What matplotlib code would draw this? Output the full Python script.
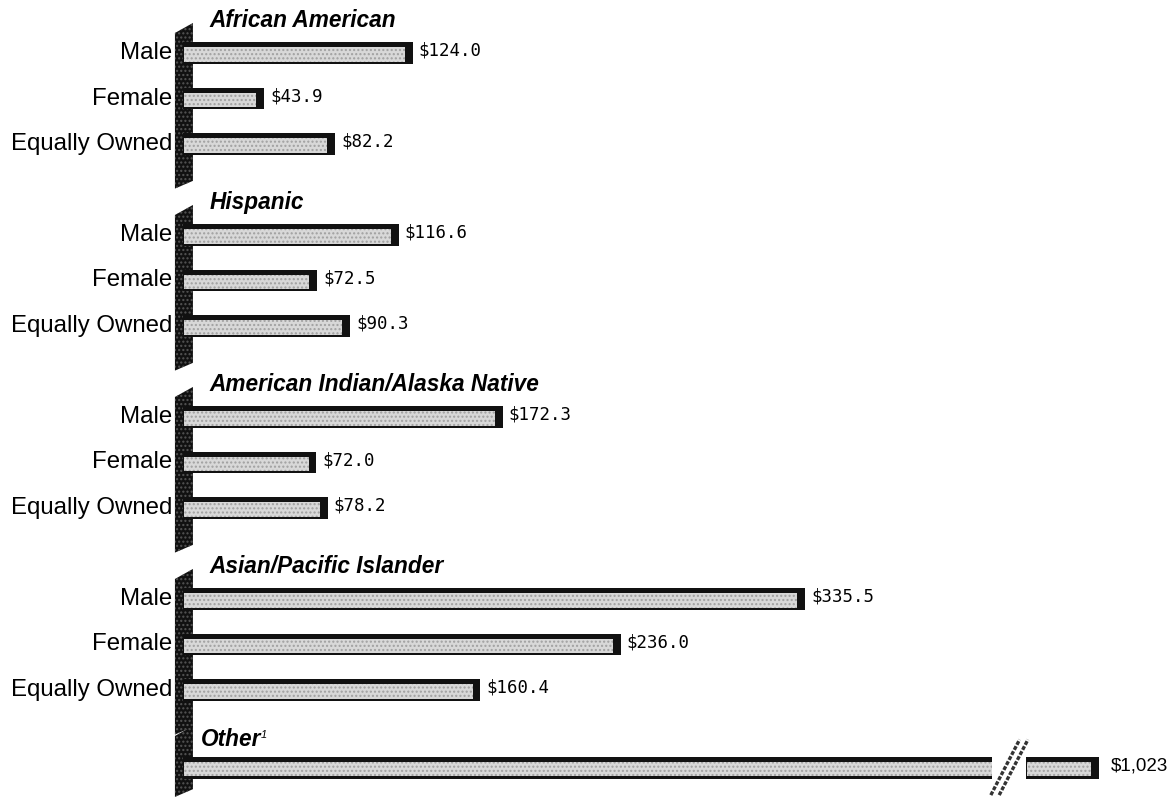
import matplotlib.pyplot as plt
from matplotlib.patches import Polygon

# receipts per firm, $ thousands
groups = ["African American", "Hispanic", "American Indian/Alaska Native",
          "Asian/Pacific Islander"]
owners = ["Male", "Female", "Equally Owned"]
values = [
    [124.0, 43.9, 82.2],
    [116.6, 72.5, 90.3],
    [172.3, 72.0, 78.2],
    [335.5, 236.0, 160.4],
]
other_label = "Other"
other_value = 1023
other_text = "$1,023"

# layout (axis units)
break_at = 436      # where the "Other" bar is cut
break_gap = 18.5
shown_len = 494     # drawn length of the cut bar
bar_h = 0.48
dark = "#111111"
face = "#d8d8d8"

fig = plt.figure(figsize=(11.68, 8.01), dpi=100)
ax = fig.add_axes([0, 0, 1, 1])
ax.set_xlim(-98.6, 531.0)
ax.set_ylim(16.44, -1.165)
ax.axis("off")

lab_font = dict(family="Liberation Sans", size=17.3)
val_font = dict(family="DejaVu Sans Mono", size=12.5)
title_font = dict(family="Liberation Sans", size=16.3, weight="bold",
                  style="italic")


def wall(top, bottom):
    pts = [(-4.3, top + 0.2), (5.4, top - 0.02), (5.4, bottom - 0.17),
           (-4.3, bottom)]
    ax.add_patch(Polygon(pts, closed=True, facecolor=dark, edgecolor="#555555",
                         hatch="....", lw=0, zorder=2))


def bar3d(y, x0, x1, right_side=True):
    ax.barh(y, x1 - x0, left=x0, height=bar_h, color=dark, zorder=3)
    end = x1 - 4.3 if right_side else x1
    ax.barh(y + 0.03, end - x0 - 0.5, left=x0 + 0.5, height=0.32, color=face,
            edgecolor="#a0a0a0", hatch="....", lw=0, zorder=4)


for g, name in enumerate(groups):
    base = 4 * g
    wall(base - 0.64, base + 2 + 0.98)
    ax.text(14.5, base - 0.72, name, va="center", ha="left", **title_font)
    for i, (cat, v) in enumerate(zip(owners, values[g])):
        y = base + i
        bar3d(y, 0, v)
        ax.text(-5.9, y, cat, ha="right", va="center", **lab_font)
        ax.text(v + 3.0, y - 0.05, f"${v:.1f}", ha="left", va="center", **val_font)

# "Other" bar with axis break
yo = 15.71
wall(yo - 0.9, yo + 0.64)
ax.text(9.5, yo - 0.62, other_label, va="center", ha="left", **title_font)
ax.text(42.0, yo - 0.72, "1", fontsize=8, family="Liberation Sans",
        style="italic", va="center", ha="left")
bar3d(yo, 0, break_at, right_side=False)
bar3d(yo, break_at + break_gap, shown_len)
for dx in (0, 4.5):
    ax.plot([break_at - 0.5 + dx, break_at + 15 + dx], [yo + 0.6, yo - 0.62],
            color="#333333", lw=2.4, ls=(0, (1.2, 0.5)), zorder=5)
ax.text(shown_len + 6, yo - 0.05, other_text, ha="left", va="center",
        family="Liberation Sans", size=13.5)

fig.savefig("out.png", dpi=100)
